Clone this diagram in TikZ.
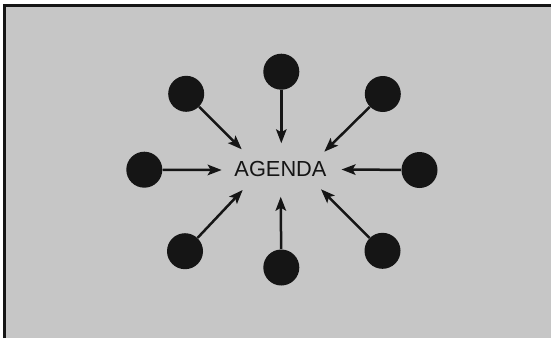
\documentclass[tikz,border=0pt]{standalone}
\usepackage{fontspec}
\setmainfont{Liberation Sans}
\usetikzlibrary{arrows.meta,positioning}
\definecolor{Ink}{HTML}{151515}
\definecolor{Paper}{HTML}{C6C6C6}
\tikzset{dot/.style={circle,fill=Ink,draw=none,minimum size=7.2mm,inner sep=0pt},flow/.style={-{Stealth[length=2.8mm,width=2.1mm,inset=0.6mm]},line width=.5mm,draw=Ink},lab/.style={font=\fontsize{12.4}{14}\selectfont,text=Ink,inner sep=0pt}}

\begin{document}
\begin{tikzpicture}[x=0.2mm,y=-0.2mm]
\useasboundingbox (0,0) rectangle (551,338);
\fill[Paper] (4.5,5.5) rectangle (551,338);
\draw[line width=.45mm,draw=Ink] (4.5,338)--(4.5,5.5)--(551,5.5);
\node[lab] (agenda) at (280.5,169) {AGENDA};
\node[dot] (t) at (281.3,71.7) {};
\node[dot] (tl) at (186.2,93.8) {};
\node[dot] (tr) at (382.8,94) {};
\node[dot] (l) at (144.3,169.7) {};
\node[dot] (r) at (419.5,170) {};
\node[dot] (bl) at (185,251.2) {};
\node[dot] (b) at (281.3,267.5) {};
\node[dot] (br) at (382.5,250.8) {};
\coordinate (ttip) at (281.3,143.3);
\coordinate (tltip) at (241.7,149.3);
\coordinate (trtip) at (324.3,151.7);
\coordinate (ltip) at (221.7,170);
\coordinate (rtip) at (341.5,169.5);
\coordinate (bltip) at (242.7,190);
\coordinate (btip) at (280.7,196.7);
\coordinate (brtip) at (321,189.3);
\draw[flow] (t)--(ttip);\draw[flow] (tl)--(tltip);\draw[flow] (tr)--(trtip);\draw[flow] (l)--(ltip);
\draw[flow] (r)--(rtip);\draw[flow] (bl)--(bltip);\draw[flow] (b)--(btip);\draw[flow] (br)--(brtip);
\end{tikzpicture}
\end{document}
